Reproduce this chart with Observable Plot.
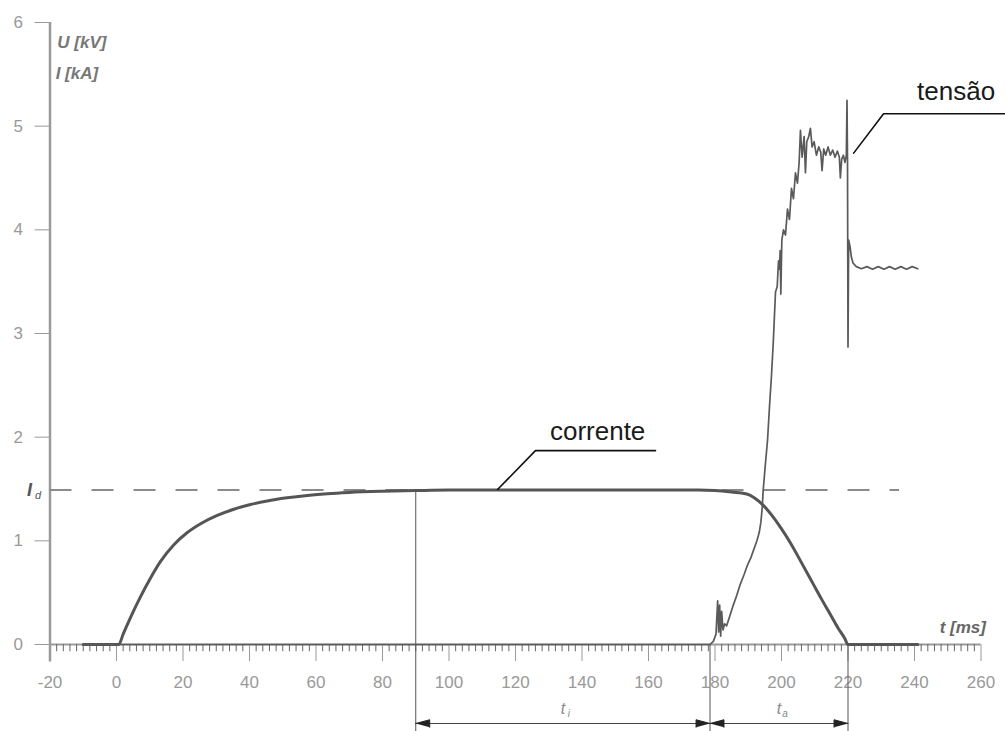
<!DOCTYPE html>
<html>
<head>
<meta charset="utf-8">
<script src="https://cdn.jsdelivr.net/npm/d3@7"></script>
<script src="https://cdn.jsdelivr.net/npm/@observablehq/plot@0.6"></script>
<style>
  html, body { margin: 0; padding: 0; background: #fff; }
  #chart svg { display: block; }
</style>
</head>
<body>
<div id="chart"></div>
<script>
// ---- data ----
const xTicks = [-20, 0, 20, 40, 60, 80, 100, 120, 140, 160, 180, 200, 220, 240, 260];
const yTicks = [0, 1, 2, 3, 4, 5, 6];
const idLevel = 1.49;

// corrente: [t (ms), I (kA)]
const corrente = [
  [-10, 0], [0, 0], [0.7, 0], [2, 0.1], [4.2, 0.26], [7.2, 0.46], [10.2, 0.64], [13.2, 0.8],
  [17.2, 0.96], [21.3, 1.08], [25.3, 1.165], [30.3, 1.245], [35.3, 1.305], [40.3, 1.35],
  [45.3, 1.385], [51.3, 1.415], [57.4, 1.438], [63.4, 1.455], [70, 1.467], [80, 1.478], [90, 1.485],
  [100, 1.49], [120, 1.49], [140, 1.49], [160, 1.49], [175, 1.49], [180, 1.485], [185, 1.47],
  [189.8, 1.45], [192, 1.41], [194.6, 1.34], [197, 1.25], [199.7, 1.13], [202.7, 0.98],
  [206, 0.79], [209.6, 0.58], [212, 0.44], [214.7, 0.29], [217, 0.16], [219, 0.06], [220, 0],
  [230, 0], [241, 0]
];

// tensão: [t (ms), U (kV)]
const tensao = [
  [-10, 0], [178.5, 0], [179.5, 0.03], [180.3, 0.1], [180.8, 0.42], [181.1, 0.12], [181.4, 0.38],
  [181.7, 0.08], [182.0, 0.32], [182.4, 0.14], [182.9, 0.2], [183.5, 0.18], [184.5, 0.28],
  [185.5, 0.38], [186.5, 0.47], [187.7, 0.59], [188.7, 0.67], [189.7, 0.76], [190.7, 0.83],
  [191.6, 0.91], [192.6, 1.0], [193.3, 1.08], [193.8, 1.18], [194.2, 1.32], [194.5, 1.49],
  [195.1, 1.72], [195.8, 1.97], [196.4, 2.3], [197.0, 2.6], [197.5, 2.9], [198.2, 3.4],
  [198.7, 3.45], [199.1, 3.7], [199.4, 3.62], [199.6, 3.8], [199.8, 3.38], [200.1, 3.9],
  [200.6, 4.0], [201.2, 3.95], [201.8, 4.2], [202.4, 4.1], [203.0, 4.4], [203.6, 4.3],
  [204.2, 4.55], [204.8, 4.45], [205.3, 4.65], [205.7, 4.96], [206.2, 4.7], [206.8, 4.9],
  [207.2, 4.55], [207.6, 4.85], [208.2, 4.9], [208.7, 4.98], [209.2, 4.8], [209.8, 4.85],
  [210.5, 4.72], [211.2, 4.8], [211.8, 4.75], [212.2, 4.57], [212.7, 4.78], [213.3, 4.72],
  [214.0, 4.8], [214.7, 4.72], [215.4, 4.77], [216.1, 4.7], [216.8, 4.76], [217.4, 4.7],
  [217.7, 4.5], [218.1, 4.68], [218.6, 4.72], [219.1, 4.65], [219.5, 4.72], [219.7, 5.25],
  [219.85, 4.7], [220.0, 2.87], [220.2, 3.9], [220.6, 3.84], [221.0, 3.74], [221.5, 3.68],
  [222.5, 3.645], [224.0, 3.625], [225.7, 3.645], [227.4, 3.62], [229.1, 3.645], [230.8, 3.62],
  [232.5, 3.645], [234.2, 3.62], [235.9, 3.645], [237.6, 3.62], [239.3, 3.645], [241.0, 3.625]
];

// time intervals marked below the axis
const intervals = [
  { main: "t", sub: "i", from: 90, to: 178.5 },
  { main: "t", sub: "a", from: 178.5, to: 220 }
];

const curveLabels = [
  { text: "tensão", t: 252.5, v: 5.33, path: [[221.7, 4.74], [230.7, 5.12], [268, 5.12]] },
  { text: "corrente", t: 144.7, v: 2.05, path: [[114.6, 1.495], [126.0, 1.87], [162.1, 1.87]] }
];

// ---- derived tables ----
const corrData = corrente.map(([t, v]) => ({ t, v }));
const tensData = tensao.map(([t, v]) => ({ t, v }));
const minorTicks = d3.range(-20, 261, 2).filter(d => d % 20 !== 0);
const leaderPts = curveLabels.flatMap((c, i) => c.path.map(([t, v]) => ({ id: i, t, v })));

const yArrow = -0.762;
const yLabel = -0.62;
const yDimEnd = -0.86;
const headL = 4.2, headH = 0.036;
const arrowHeads = intervals.flatMap((d, i) => [
  { id: "l" + i, t: d.from, v: yArrow }, { id: "l" + i, t: d.from + headL, v: yArrow + headH }, { id: "l" + i, t: d.from + headL, v: yArrow - headH },
  { id: "r" + i, t: d.to, v: yArrow }, { id: "r" + i, t: d.to - headL, v: yArrow + headH }, { id: "r" + i, t: d.to - headL, v: yArrow - headH }
]);
const dimLines = [
  { t: intervals[0].from, v1: idLevel, v2: yDimEnd },
  { t: intervals[0].to, v1: 0, v2: yDimEnd },
  { t: intervals[1].to, v1: 0, v2: yDimEnd }
];

const chart = Plot.plot({
  width: 1005,
  height: 731,
  marginLeft: 49.5,
  marginRight: 24.5,
  marginTop: 22,
  marginBottom: 87,
  style: { fontFamily: "'Liberation Sans', Arial, sans-serif", fontSize: "17px", color: "#999", background: "#fff", overflow: "visible" },
  x: { domain: [-20, 260], ticks: xTicks, tickSize: 17, tickPadding: 14, label: null, tickFormat: d => String(d) },
  y: { domain: [0, 6], ticks: yTicks, tickSize: 15, tickPadding: 12, label: null, tickFormat: d => String(d) },
  marks: [
    // axis lines
    Plot.ruleY([0], { x1: -20, x2: 260, stroke: "#9a9a9a", strokeWidth: 2 }),
    Plot.ruleX([-20], { y1: -0.17, y2: 6, stroke: "#9a9a9a", strokeWidth: 2.5 }),
    Plot.ruleX(minorTicks, { x: d => d, y1: 0, y2: -0.07, stroke: "#666", strokeWidth: 1 }),
    // I_d dashed level
    Plot.ruleY([idLevel], { x1: -20, x2: 235.5, stroke: "#8a8a8a", strokeWidth: 2, strokeDasharray: "22,20" }),
    // dimension lines
    Plot.ruleX(dimLines, { x: "t", y1: "v1", y2: "v2", stroke: "#555", strokeWidth: 1 }),
    Plot.ruleY(intervals, { y: () => yArrow, x1: "from", x2: "to", stroke: "#444", strokeWidth: 1 }),
    Plot.line(arrowHeads, { x: "t", y: "v", z: "id", fill: "#222", stroke: "#222", strokeWidth: 1 }),
    Plot.text(intervals, { x: d => (d.from + d.to) / 2, y: () => yLabel, text: "main", fill: "#888", fontSize: 16, fontStyle: "italic" }),
    Plot.text(intervals, { x: d => (d.from + d.to) / 2, y: () => yLabel, text: "sub", fill: "#888", fontSize: 10, fontStyle: "italic", dx: 6, dy: 5 }),
    // data
    Plot.line(corrData, { x: "t", y: "v", stroke: "#555", strokeWidth: 3, curve: "monotone-x" }),
    Plot.line(tensData, { x: "t", y: "v", stroke: "#5a5a5a", strokeWidth: 1.7, curve: "linear" }),
    // curve labels with leaders
    Plot.line(leaderPts, { x: "t", y: "v", z: "id", stroke: "#111", strokeWidth: 1.6 }),
    Plot.text(curveLabels, { x: "t", y: "v", text: "text", fill: "#1a1a1a", fontSize: 26 }),
    // axis titles
    Plot.text(["U [kV]"], { x: () => -17.8, y: () => 5.81, text: d => d, textAnchor: "start", fill: "#777", fontSize: 17, fontWeight: "bold", fontStyle: "italic" }),
    Plot.text(["I [kA]"], { x: () => -18.3, y: () => 5.51, text: d => d, textAnchor: "start", fill: "#777", fontSize: 17, fontWeight: "bold", fontStyle: "italic" }),
    Plot.text(["t [ms]"], { x: () => 261.5, y: () => 0.165, text: d => d, textAnchor: "end", fill: "#666", fontSize: 17, fontWeight: "bold", fontStyle: "italic" }),
    Plot.text(["I"], { x: () => -26.2, y: () => idLevel, text: d => d, fill: "#555", fontSize: 18, fontWeight: "bold", fontStyle: "italic" }),
    Plot.text(["d"], { x: () => -23.6, y: () => idLevel - 0.05, text: d => d, fill: "#555", fontSize: 11, fontStyle: "italic" })
  ]
});
document.getElementById("chart").appendChild(chart);
</script>
</body>
</html>
